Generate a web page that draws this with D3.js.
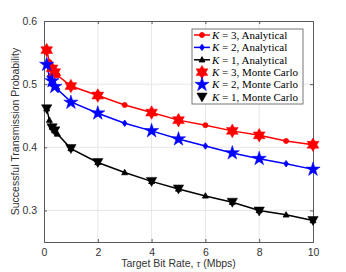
<!DOCTYPE html>
<html>
<head>
<meta charset="utf-8">
<script src="https://cdn.jsdelivr.net/npm/d3@7"></script>
<style>
  body { margin: 0; background: #fff; }
  svg text { font-family: "Liberation Sans", Arial, sans-serif; }
</style>
</head>
<body>
<svg id="chart"></svg>
<script>
// data
var xAnalytical = [0.1, 0.2, 0.3, 0.4, 0.5, 1, 2, 3, 4, 5, 6, 7, 8, 9, 10];
var k3Analytical = [0.554, 0.535, 0.526, 0.519, 0.514, 0.497, 0.482, 0.467, 0.455, 0.443, 0.435, 0.426, 0.419, 0.410, 0.404];
var k2Analytical = [0.531, 0.512, 0.503, 0.497, 0.492, 0.472, 0.454, 0.438, 0.426, 0.413, 0.402, 0.391, 0.382, 0.374, 0.365];
var k1Analytical = [0.461, 0.443, 0.432, 0.426, 0.421, 0.398, 0.376, 0.360, 0.346, 0.334, 0.323, 0.313, 0.300, 0.293, 0.284];

var xMonte = [0.1, 0.3, 0.4, 1, 2, 4, 5, 7, 8, 10];
var k3Monte = [0.554, 0.525, 0.519, 0.497, 0.482, 0.455, 0.443, 0.426, 0.419, 0.404];
var k2Monte = [0.531, 0.505, 0.496, 0.471, 0.454, 0.426, 0.413, 0.391, 0.382, 0.365];
var k1Monte = [0.461, 0.431, 0.426, 0.398, 0.376, 0.346, 0.334, 0.313, 0.299, 0.284];

var xTicks = [0, 2, 4, 6, 8, 10];
var yTicks = [0.3, 0.4, 0.5, 0.6];

var W = 346, H = 272;
var margin = {top: 21, right: 33, bottom: 30, left: 44};
var width = W - margin.left - margin.right,
    height = H - margin.top - margin.bottom;

var svg = d3.select("#chart").attr("width", W).attr("height", H);
var g = svg.append("g").attr("transform", "translate(" + margin.left + "," + margin.top + ")");

var x = d3.scaleLinear().domain([0, 10]).range([0, width]);
var y = d3.scaleLinear().domain([0.25, 0.6]).range([height, 0]);

// grid
g.append("g").selectAll("line").data(xTicks.slice(1, -1)).enter().append("line")
    .attr("x1", d => x(d)).attr("x2", d => x(d))
    .attr("y1", 0).attr("y2", height)
    .attr("stroke", "#e6e6e6").attr("stroke-width", 1);
g.append("g").selectAll("line").data(yTicks.slice(0, -1)).enter().append("line")
    .attr("y1", d => y(d)).attr("y2", d => y(d))
    .attr("x1", 0).attr("x2", width)
    .attr("stroke", "#e6e6e6").attr("stroke-width", 1);

// axes (inward ticks, full box)
var axisColor = "#5a5a5a";
var xAxis = d3.axisBottom(x).tickValues(xTicks).tickSize(-3).tickPadding(7).tickFormat(d3.format("d"));
var yAxis = d3.axisLeft(y).tickValues(yTicks).tickSize(-3).tickPadding(7).tickFormat(d3.format(".1f"));

var gx = g.append("g").attr("transform", "translate(0," + height + ")").call(xAxis);
var gy = g.append("g").call(yAxis);
var gxTop = g.append("g").call(d3.axisTop(x).tickValues(xTicks).tickSize(-3).tickFormat(""));
var gyRight = g.append("g").attr("transform", "translate(" + width + ",0)")
    .call(d3.axisRight(y).tickValues(yTicks).tickSize(-3).tickFormat(""));

[gx, gy, gxTop, gyRight].forEach(function (a) {
    a.select(".domain").attr("stroke", axisColor);
    a.selectAll(".tick line").attr("stroke", axisColor);
    a.selectAll(".tick text").attr("fill", "#333").style("font-size", "10.5px");
});

// lines
var series = [
    {color: "#ff0000", ya: k3Analytical, ym: k3Monte, am: "circle", mm: "hexagram"},
    {color: "#0000ff", ya: k2Analytical, ym: k2Monte, am: "diamond", mm: "pentagram"},
    {color: "#000000", ya: k1Analytical, ym: k1Monte, am: "triUp", mm: "triDown"}
];

function markerPath(type) {
    var p = d3.path(), i, a, r;
    if (type === "circle") {
        return d3.symbol().type(d3.symbolCircle).size(20)();
    } else if (type === "diamond") {
        return "M0,-3.2L2.4,0L0,3.2L-2.4,0Z";
    } else if (type === "triUp") {
        return "M0,-3.2L3,2.2L-3,2.2Z";
    } else if (type === "triDown") {
        return "M-5.2,-4L5.2,-4L0,5Z";
    } else if (type === "pentagram") {
        r = 7.5;
        var pts = [];
        for (i = 0; i < 10; i++) {
            a = -Math.PI / 2 + i * Math.PI / 5;
            var rr = i % 2 === 0 ? r : r * 0.382;
            pts.push([rr * Math.cos(a), rr * Math.sin(a)]);
        }
        return "M" + pts.join("L") + "Z";
    } else if (type === "hexagram") {
        r = 6.8;
        var hp = [];
        for (i = 0; i < 12; i++) {
            a = -Math.PI / 2 + i * Math.PI / 6;
            var rh = i % 2 === 0 ? r : r * 0.577;
            hp.push([rh * Math.cos(a), rh * Math.sin(a)]);
        }
        return "M" + hp.join("L") + "Z";
    }
}

var line = d3.line().x(d => x(d[0])).y(d => y(d[1]));

series.forEach(function (s) {
    var pts = xAnalytical.map((v, i) => [v, s.ya[i]]);
    g.append("path").datum(pts)
        .attr("d", line)
        .attr("fill", "none")
        .attr("stroke", s.color)
        .attr("stroke-width", 1.5);
    g.append("g").selectAll("path").data(pts).enter().append("path")
        .attr("transform", d => "translate(" + x(d[0]) + "," + y(d[1]) + ")")
        .attr("d", markerPath(s.am))
        .attr("fill", s.color).attr("stroke", s.color).attr("stroke-width", 0.8);
});

series.forEach(function (s) {
    var pts = xMonte.map((v, i) => [v, s.ym[i]]);
    g.append("g").selectAll("path").data(pts).enter().append("path")
        .attr("transform", d => "translate(" + x(d[0]) + "," + y(d[1]) + ")")
        .attr("d", markerPath(s.mm))
        .attr("fill", s.color).attr("stroke", s.color).attr("stroke-width", 0.5);
});

// axis labels
svg.append("text")
    .attr("transform", "translate(" + 19 + "," + (margin.top + height / 2) + ") rotate(-90)")
    .attr("text-anchor", "middle")
    .attr("fill", "#333")
    .style("font-size", "10.5px")
    .text("Successful Transmission Probability");

var xl = svg.append("text")
    .attr("x", margin.left + width / 2)
    .attr("y", 267)
    .attr("text-anchor", "middle")
    .attr("fill", "#333")
    .style("font-size", "10.5px");
xl.append("tspan").text("Target Bit Rate, ");
xl.append("tspan").style("font-family", "'Liberation Serif', serif").style("font-style", "italic").text("τ");
xl.append("tspan").text(" (Mbps)");

// legend
var legendNames = [
    ["K", " = 3, Analytical"], ["K", " = 2, Analytical"], ["K", " = 1, Analytical"],
    ["K", " = 3, Monte Carlo"], ["K", " = 2, Monte Carlo"], ["K", " = 1, Monte Carlo"]
];
var lg = svg.append("g").attr("transform", "translate(192,29)");
lg.append("rect").attr("width", 111).attr("height", 75)
    .attr("fill", "#fff").attr("stroke", "#777").attr("stroke-width", 1);

legendNames.forEach(function (nm, i) {
    var s = series[i % 3];
    var cy = 6 + i * 12.4;
    var row = lg.append("g").attr("transform", "translate(0," + cy + ")");
    if (i < 3) {
        row.append("line").attr("x1", 2).attr("x2", 18).attr("y1", 0).attr("y2", 0)
            .attr("stroke", s.color).attr("stroke-width", 1.5);
        row.append("path").attr("transform", "translate(10,0)").attr("d", markerPath(s.am))
            .attr("fill", s.color).attr("stroke", s.color).attr("stroke-width", 0.8);
    } else {
        row.append("path").attr("transform", "translate(10,0)").attr("d", markerPath(s.mm))
            .attr("fill", s.color).attr("stroke", s.color).attr("stroke-width", 0.5);
    }
    var t = row.append("text").attr("x", 20).attr("y", 3.8)
        .style("font-family", "'Liberation Serif', 'DejaVu Serif', serif")
        .style("font-size", "11px").attr("fill", "#000");
    t.append("tspan").style("font-style", "italic").text(nm[0]);
    t.append("tspan").text(nm[1]);
});
</script>
</body>
</html>
